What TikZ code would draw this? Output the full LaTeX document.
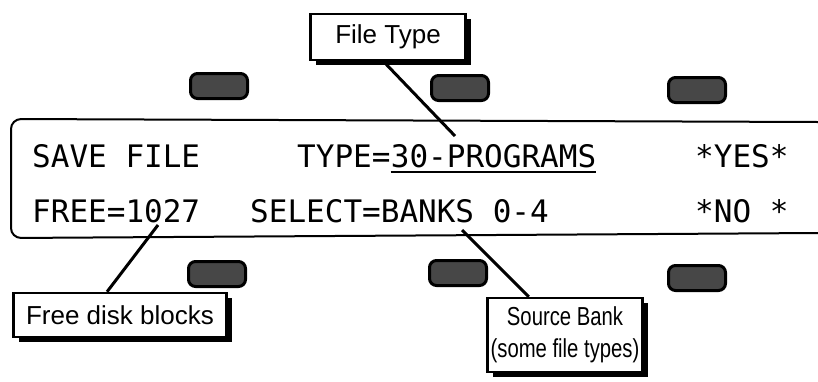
\documentclass[tikz,border=0pt]{standalone}
\usepackage{graphicx}
\usepackage{fontspec}
\setmainfont{Liberation Sans}
\newfontfamily\lcdfont{DejaVu Sans Mono}
\usetikzlibrary{calc,shadows}

\newcommand{\narrowtext}[1]{\scalebox{0.78}[1]{#1}}

\begin{document}
\begin{tikzpicture}[
    x=1pt, y=-1pt,
    lcd/.style={anchor=base west, inner sep=0pt, font=\lcdfont\fontsize{31}{31}\selectfont},
    softkey/.style={draw=black, line width=3pt, rounded corners=7pt, fill=black!72, minimum width=57pt, minimum height=25pt, inner sep=0pt},
    callout/.style={draw=black, line width=2.5pt, fill=white, align=center, inner sep=2pt, font=\fontsize{26}{28}\selectfont,
        drop shadow={shadow xshift=5pt, shadow yshift=-5pt, fill=black, opacity=1}},
    leader/.style={line width=3pt}
]
\useasboundingbox (0,0) rectangle (818,381);

% display window
\draw[line width=2pt, rounded corners=10pt] (818,122) -- (11,119) -- (11,238) -- (818,233);

\node[lcd] (save) at (32,167) {SAVE FILE};
\node[lcd] (type) at (297,167) {TYPE=};
\node[lcd] (prog) at (type.base east) {30-PROGRAMS};
\draw[line width=2pt] ([yshift=-5pt]prog.base west) -- ([yshift=-5pt]prog.base east);
\node[lcd] (yes) at (695,167) {*YES*};
\node[lcd] (free) at (32,222) {FREE=1027};
\node[lcd] (select) at (250,222) {SELECT=BANKS 0-4};
\node[lcd] (no) at (695,222) {*NO *};

% soft keys
\foreach \kx/\ky [count=\i] in {219/86, 460/88, 697/90}
    \node[softkey] (top\i) at (\kx,\ky) {};
\foreach \kx/\ky [count=\i] in {217/274, 458/273, 697/278}
    \node[softkey] (bot\i) at (\kx,\ky) {};

% callouts
\node[callout, minimum width=155pt, minimum height=46pt] (filetype) at (388,37) {File Type};
\node[callout, minimum width=213pt, minimum height=44pt] (freeblk) at (120,315) {Free disk blocks};
\node[callout, minimum width=155pt, minimum height=74pt, font=\fontsize{26}{32}\selectfont] (srcbank) at (565,335)
    {\narrowtext{Source Bank}\\\narrowtext{(some file types)}};

\coordinate (typetip) at (455,136);
\coordinate (freetip) at (158,225);
\coordinate (banktip) at (462,230);

\draw[leader] ($(filetype.south west)!0.47!(filetype.south east)$) -- (typetip);
\draw[leader] ($(freeblk.north west)!0.44!(freeblk.north east)$) -- (freetip);
\draw[leader] ($(srcbank.north west)!0.27!(srcbank.north east)$) -- (banktip);
\end{tikzpicture}
\end{document}
